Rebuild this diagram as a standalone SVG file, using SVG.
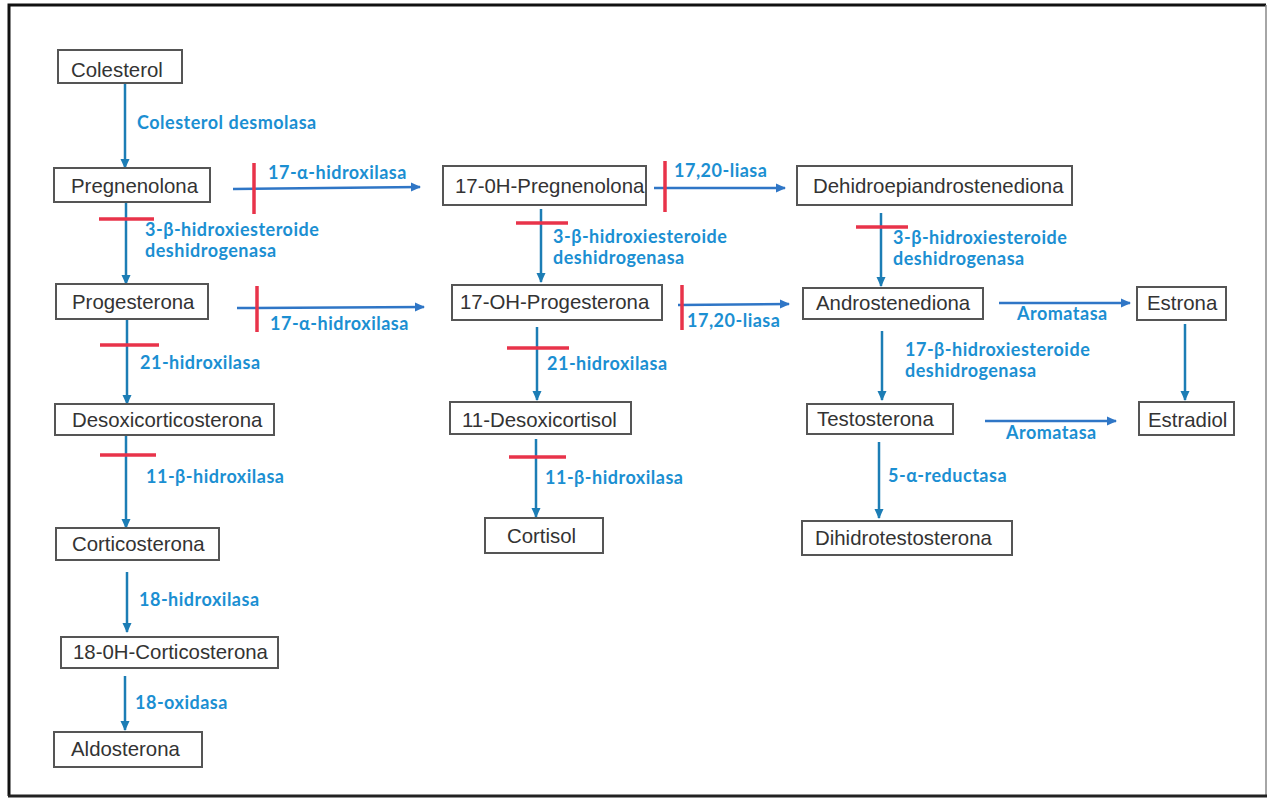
<svg xmlns="http://www.w3.org/2000/svg" width="1269" height="799" viewBox="0 0 1269 799">
<style>
.node rect{fill:#fff;stroke:#555;stroke-width:2}
.node text{font-family:"Liberation Sans",Arial,sans-serif;font-size:20.4px;fill:#333}
.v{stroke:#1c7db5;stroke-width:2.5;fill:none;marker-end:url(#av)}
.h{stroke:#2f76c6;stroke-width:2.5;fill:none;marker-end:url(#ah)}
.bar{stroke:#e8334a;stroke-width:3.5}
.lbl{font-family:Lato,"Open Sans",sans-serif;font-weight:bold;font-size:18px;fill:#1b8fd2;letter-spacing:0.5px}
</style>
<defs>
<marker id="av" markerWidth="10" markerHeight="10" refX="9" refY="5" orient="auto" markerUnits="userSpaceOnUse" viewBox="0 0 10 10"><path d="M0,0.5 L10,5 L0,9.5 z" fill="#1c7db5"/></marker>
<marker id="ah" markerWidth="10" markerHeight="10" refX="9" refY="5" orient="auto" markerUnits="userSpaceOnUse" viewBox="0 0 10 10"><path d="M0,0.5 L10,5 L0,9.5 z" fill="#2f76c6"/></marker>
</defs>
<rect x="0" y="0" width="1269" height="799" fill="#fff"/>
<path d="M9,796 L9,5 L1266,5" fill="none" stroke="#111" stroke-width="3"/>
<line x1="1266" y1="5" x2="1266" y2="796" stroke="#888" stroke-width="1.5"/>
<line x1="8" y1="796" x2="1267" y2="796" stroke="#222" stroke-width="3"/>

<g id="connectors">
<line class="v" x1="125" y1="83" x2="125" y2="168"/>
<line class="v" x1="126" y1="202" x2="126" y2="284"/>
<line class="v" x1="127" y1="319" x2="127" y2="404"/>
<line class="v" x1="126" y1="435" x2="126" y2="528"/>
<line class="v" x1="127" y1="572" x2="127" y2="632"/>
<line class="v" x1="125" y1="676" x2="125" y2="730"/>
<line class="v" x1="541" y1="209" x2="541" y2="282"/>
<line class="v" x1="537" y1="327" x2="537" y2="400"/>
<line class="v" x1="536" y1="439" x2="536" y2="517"/>
<line class="v" x1="881" y1="213" x2="881" y2="286"/>
<line class="v" x1="882" y1="331" x2="882" y2="400"/>
<line class="v" x1="1185" y1="324" x2="1185" y2="400"/>
<line class="v" x1="879" y1="442" x2="879" y2="518"/>
<line class="h" x1="233" y1="189" x2="420" y2="187"/>
<line class="h" x1="237" y1="308" x2="424" y2="307"/>
<line class="h" x1="654" y1="188" x2="785" y2="188"/>
<line class="h" x1="678" y1="305" x2="789" y2="304"/>
<line class="h" x1="999" y1="303" x2="1130" y2="303"/>
<line class="h" x1="985" y1="421" x2="1116" y2="421"/>
<line class="bar" x1="254" y1="163" x2="254" y2="214"/>
<line class="bar" x1="99" y1="219" x2="154" y2="219"/>
<line class="bar" x1="257" y1="286" x2="257" y2="332"/>
<line class="bar" x1="100" y1="345" x2="159" y2="345"/>
<line class="bar" x1="100" y1="455" x2="156" y2="455"/>
<line class="bar" x1="665" y1="161" x2="665" y2="212"/>
<line class="bar" x1="516" y1="223" x2="568" y2="223"/>
<line class="bar" x1="682" y1="285" x2="682" y2="330"/>
<line class="bar" x1="507" y1="348" x2="569" y2="348"/>
<line class="bar" x1="509" y1="457" x2="566" y2="457"/>
<line class="bar" x1="856" y1="227" x2="908" y2="227"/>
<text class="lbl" x="137" y="129">Colesterol desmolasa</text>
<text class="lbl" x="268" y="179">17-α-hidroxilasa</text>
<text class="lbl" x="145" y="236">3-β-hidroxiesteroide</text>
<text class="lbl" x="145" y="257">deshidrogenasa</text>
<text class="lbl" x="270" y="330">17-α-hidroxilasa</text>
<text class="lbl" x="140" y="369">21-hidroxilasa</text>
<text class="lbl" x="146" y="483">11-β-hidroxilasa</text>
<text class="lbl" x="139" y="606">18-hidroxilasa</text>
<text class="lbl" x="135" y="709">18-oxidasa</text>
<text class="lbl" x="674" y="177">17,20-liasa</text>
<text class="lbl" x="553" y="243">3-β-hidroxiesteroide</text>
<text class="lbl" x="553" y="264">deshidrogenasa</text>
<text class="lbl" x="687" y="327">17,20-liasa</text>
<text class="lbl" x="547" y="370">21-hidroxilasa</text>
<text class="lbl" x="545" y="484">11-β-hidroxilasa</text>
<text class="lbl" x="893" y="244">3-β-hidroxiesteroide</text>
<text class="lbl" x="893" y="265">deshidrogenasa</text>
<text class="lbl" x="1017" y="320">Aromatasa</text>
<text class="lbl" x="905" y="356">17-β-hidroxiesteroide</text>
<text class="lbl" x="905" y="377">deshidrogenasa</text>
<text class="lbl" x="1006" y="439">Aromatasa</text>
<text class="lbl" x="888" y="482">5-α-reductasa</text>
</g>

<g id="colesterol" class="node"><rect x="58" y="50" width="124" height="33"/><text x="71" y="77">Colesterol</text></g>
<g id="pregnenolona" class="node"><rect x="54" y="168" width="156" height="34"/><text x="71" y="193">Pregnenolona</text></g>
<g id="oh17-pregnenolona" class="node"><rect x="443" y="166" width="203" height="39"/><text x="455" y="193">17-0H-Pregnenolona</text></g>
<g id="dhea" class="node"><rect x="797" y="166" width="275" height="39"/><text x="813" y="193">Dehidroepiandrostenediona</text></g>
<g id="progesterona" class="node"><rect x="56" y="284" width="152" height="35"/><text x="72" y="309">Progesterona</text></g>
<g id="oh17-progesterona" class="node"><rect x="452" y="285" width="210" height="35"/><text x="460" y="309">17-OH-Progesterona</text></g>
<g id="androstenediona" class="node"><rect x="803" y="288" width="180" height="31"/><text x="816" y="310">Androstenediona</text></g>
<g id="estrona" class="node"><rect x="1137" y="287" width="89" height="33"/><text x="1147" y="310">Estrona</text></g>
<g id="desoxicorticosterona" class="node"><rect x="55" y="404" width="219" height="31"/><text x="72" y="427">Desoxicorticosterona</text></g>
<g id="desoxicortisol" class="node"><rect x="450" y="402" width="181" height="32"/><text x="462" y="427">11-Desoxicortisol</text></g>
<g id="testosterona" class="node"><rect x="807" y="404" width="146" height="30"/><text x="817" y="426">Testosterona</text></g>
<g id="estradiol" class="node"><rect x="1139" y="402" width="95" height="33"/><text x="1148" y="427">Estradiol</text></g>
<g id="corticosterona" class="node"><rect x="56" y="528" width="163" height="32"/><text x="72" y="551">Corticosterona</text></g>
<g id="cortisol" class="node"><rect x="485" y="518" width="118" height="35"/><text x="507" y="543">Cortisol</text></g>
<g id="dihidrotestosterona" class="node"><rect x="802" y="521" width="210" height="34"/><text x="815" y="545">Dihidrotestosterona</text></g>
<g id="oh18-corticosterona" class="node"><rect x="61" y="637" width="217" height="31"/><text x="73" y="659">18-0H-Corticosterona</text></g>
<g id="aldosterona" class="node"><rect x="54" y="732" width="148" height="35"/><text x="71" y="756">Aldosterona</text></g>
</svg>
